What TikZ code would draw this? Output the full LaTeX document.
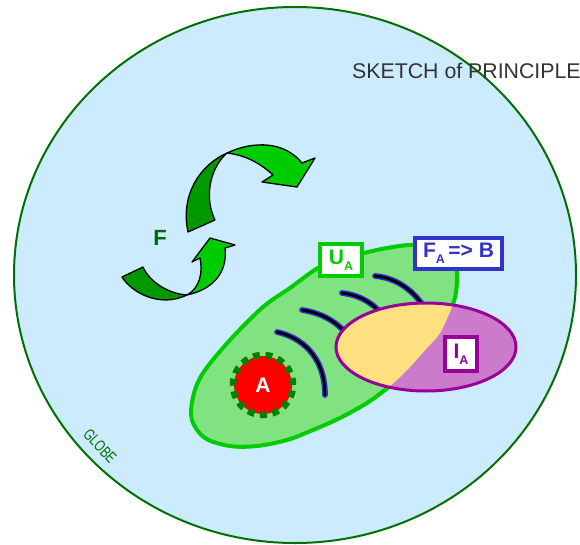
\documentclass[tikz,border=0pt]{standalone}
\usepackage{fontspec}
\setmainfont{Liberation Sans}

\definecolor{globefill}{RGB}{204,235,255}
\definecolor{globeline}{RGB}{0,112,0}
\definecolor{zonefill}{RGB}{128,226,128}
\definecolor{zoneline}{RGB}{0,204,0}
\definecolor{overlapfill}{RGB}{255,224,128}
\definecolor{inflfill}{RGB}{204,122,204}
\definecolor{inflline}{RGB}{153,0,153}
\definecolor{fieldblue}{RGB}{51,51,204}
\definecolor{seedgreen}{RGB}{0,128,0}
\definecolor{arrowlight}{RGB}{0,204,0}
\definecolor{arrowdark}{RGB}{0,153,0}
\definecolor{flabel}{RGB}{0,102,0}
\definecolor{titlegray}{RGB}{51,51,51}

% lowered small subscript letter
\newcommand{\lowsub}[1]{\raisebox{-6pt}{\fontsize{12.5}{12.5}\selectfont\bfseries #1}}

\begin{document}
\begin{tikzpicture}[x=1pt,y=-1pt,
  labelbox/.style={draw, line width=4pt, fill=white, inner sep=0pt,
    font=\fontsize{21}{21}\selectfont\bfseries},
  fieldline/.style={draw=fieldblue, line width=1.5pt, double=black,
    double distance=2.8pt, line cap=round},
  ribbon/.style={draw=black, line width=1.3pt, line join=round}]
\useasboundingbox (0,0) rectangle (580,545);

% the globe
\filldraw[fill=globefill, draw=globeline, line width=2pt]
  (295,275) ellipse [x radius=281pt, y radius=268pt];

% title
\node[anchor=base west, inner sep=0pt, text=titlegray,
  font=\fontsize{21.3}{21.3}\selectfont] (title) at (352,79) {SKETCH of PRINCIPLE};

% upper curved arrow: back side, then front with head
\filldraw[ribbon, fill=arrowdark]
  (227,153) .. controls (200,165) and (180,195) .. (188,232)
  -- (215,220) .. controls (205,200) and (208,170) .. (227,153) -- cycle;
\filldraw[ribbon, fill=arrowlight]
  (227,153) .. controls (255,140) and (285,142) .. (302,163)
  -- (315,158) -- (297,187) -- (262,182) -- (273,175)
  .. controls (260,163) and (245,155) .. (227,153) -- cycle;

% lower curved arrow: back side, then front with head
\filldraw[ribbon, fill=arrowdark]
  (122,277) .. controls (132,293) and (160,308) .. (187,295)
  .. controls (170,294) and (150,283) .. (143,267) -- cycle;
\filldraw[ribbon, fill=arrowlight]
  (187,295) .. controls (210,290) and (228,275) .. (225,248)
  -- (235,245) -- (210,238) -- (192,262) -- (200,258)
  .. controls (203,272) and (200,288) .. (187,295) -- cycle;

\node[text=flabel, font=\fontsize{22}{22}\selectfont\bfseries] (flab) at (160,238) {F};

% zone of A
\path[save path=\zonesaved] plot[smooth cycle, tension=0.55] coordinates {
  (318,268) (340,260) (364,253) (387,248) (410,245) (440,246) (455,255)
  (457,275) (456,292) (452,307) (440,333) (427,348) (410,367) (397,380)
  (385,390) (367,403) (340,418) (313,430) (287,440) (257,446) (230,446)
  (205,438) (192,420) (193,397) (203,373) (230,340) (263,307) (290,288)};
\path[use path=\zonesaved, fill=zonefill, draw=zoneline, line width=4pt];

% field lines
\draw[fieldline] (277,332) .. controls (300,337) and (325,355) .. (325,395);
\draw[fieldline] (302,310) .. controls (322,313) and (338,322) .. (350,338);
\draw[fieldline] (342,293) .. controls (360,295) and (375,304) .. (385,318);
\draw[fieldline] (375,276) .. controls (398,278) and (415,292) .. (426,310);

% influenced region and overlap with the zone
\fill[inflfill] (426,347) ellipse [x radius=90pt, y radius=44pt];
\begin{scope}
  \clip (426,347) ellipse [x radius=90pt, y radius=44pt];
  \path[use path=\zonesaved, fill=overlapfill];
\end{scope}
\draw[inflline, line width=3pt] (426,347) ellipse [x radius=90pt, y radius=44pt];

% source A
\fill[red] (263,385) circle [radius=29pt];
\draw[seedgreen, line width=6.5pt, dash pattern=on 6.8pt off 5.77pt]
  (263,385) circle [radius=30pt];
\node[text=white, font=\fontsize{21}{21}\selectfont\bfseries] (alab) at (263,385) {A};

% labels
\node[labelbox, draw=zoneline, text=zoneline, minimum width=42pt, minimum height=32pt]
  (ua) at (341,260) {U\lowsub{A}};
\node[labelbox, draw=fieldblue, text=fieldblue, minimum width=87pt, minimum height=31pt]
  (fa) at (458.5,253.5) {F\lowsub{A}\,=> B};
\node[labelbox, draw=inflline, text=inflline, minimum width=32pt, minimum height=34pt]
  (ia) at (461,354) {I\lowsub{A}};

\node[text=globeline, rotate=-47, inner sep=0pt, font=\fontsize{16}{16}\selectfont]
  (glob) at (100,446) {\scalebox{0.72}[1]{GLOBE}};
\end{tikzpicture}
\end{document}
